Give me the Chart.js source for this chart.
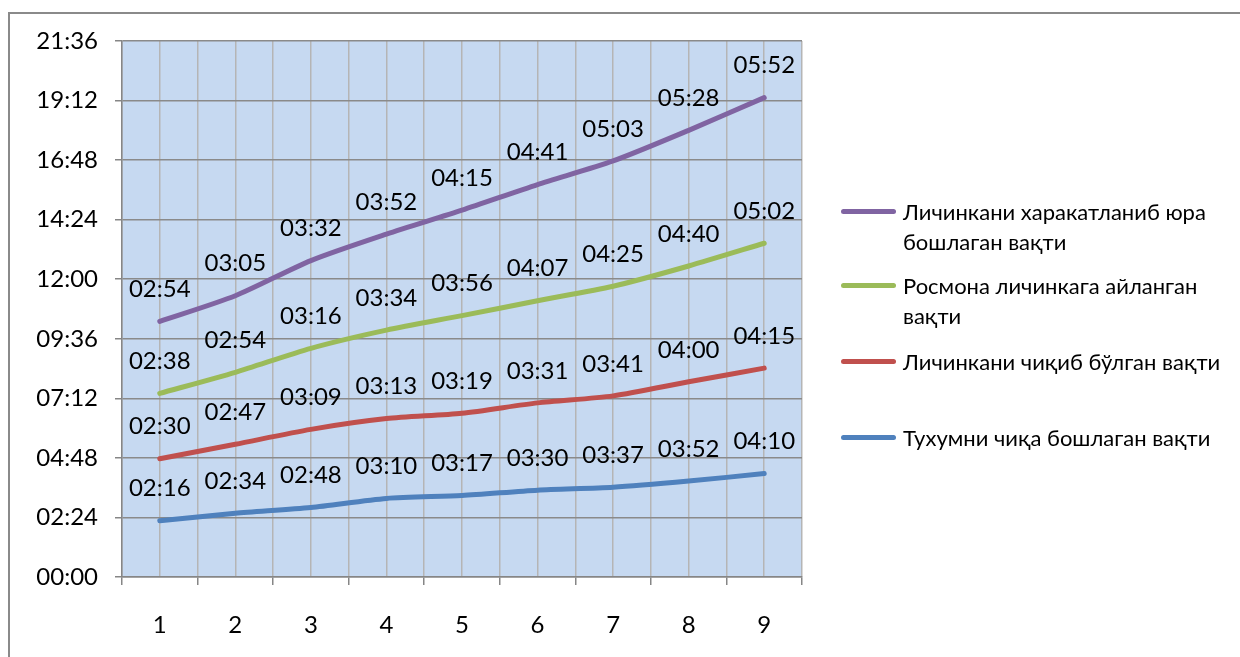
<!DOCTYPE html>
<html>
<head>
<meta charset="utf-8">
<script src="https://cdn.jsdelivr.net/npm/chart.js@4/dist/chart.umd.min.js"></script>
<style>
  html, body { margin: 0; padding: 0; background: #fff; }
  #wrap { position: relative; width: 1240px; height: 657px; overflow: hidden; }
  #frame { position: absolute; left: 8px; top: 12px; width: 1300px; height: 700px; border: 2px solid #8a8a8a; box-sizing: border-box; }
  #cv { position: absolute; left: 0; top: 0; }
  .lg { position: absolute; left: 841px; font-family: Lato, 'Open Sans', 'Noto Sans', sans-serif; font-size: 22px; color: #000; line-height: 30px; white-space: nowrap; }
  .lg .sw { position: absolute; left: 0; top: 12.5px; width: 55px; height: 5px; border-radius: 2.5px; }
  .lg .tx { position: absolute; left: 62px; top: 1px; }
</style>
</head>
<body>
<div id="wrap">
  <div id="frame"></div>
  <canvas id="cv" width="1240" height="657"></canvas>
</div>
<script>
// ---- data ----
const categories = [1, 2, 3, 4, 5, 6, 7, 8, 9];
// durations as "HH:MM" (stacked series, bottom to top)
const eggHatchStart   = ['02:16','02:34','02:48','03:10','03:17','03:30','03:37','03:52','04:10'];
const larvaFullHatch  = ['02:30','02:47','03:09','03:13','03:19','03:31','03:41','04:00','04:15'];
const turnedToLarva   = ['02:38','02:54','03:16','03:34','03:56','04:07','04:25','04:40','05:02'];
const larvaMoveStart  = ['02:54','03:05','03:32','03:52','04:15','04:41','05:03','05:28','05:52'];
const seriesNames = [
  ['Тухумни чиқа бошлаган вақти'],
  ['Личинкани чиқиб бўлган вақти'],
  ['Росмона личинкага айланган', 'вақти'],
  ['Личинкани харакатланиб юра', 'бошлаган вақти']
];
const seriesColors = ['#4f81bd', '#c0504d', '#9bbb59', '#8064a2'];
const yMaxLabel = '21:36';
const yStepLabel = '02:24';

// ---- helpers ----
const toMin = s => { const [h, m] = s.split(':').map(Number); return h * 60 + m; };
const fmt = v => { const h = Math.floor(v / 60), m = Math.round(v % 60); return String(h).padStart(2, '0') + ':' + String(m).padStart(2, '0'); };
const seriesValues = [eggHatchStart, larvaFullHatch, turnedToLarva, larvaMoveStart].map(a => a.map(toMin));

const datasets = seriesValues.map((vals, i) => ({
  label: seriesNames[i].join(' '),
  data: categories.map((c, j) => ({ x: c, y: vals[j] })),
  borderColor: seriesColors[i],
  backgroundColor: seriesColors[i],
  borderWidth: 5,
  borderCapStyle: 'round',
  borderJoinStyle: 'round',
  pointRadius: 0,
  pointHoverRadius: 0,
  tension: 0.25,
  fill: false
}));

const plotBg = {
  id: 'plotBg',
  beforeDraw(chart) {
    const { ctx, chartArea: a } = chart;
    ctx.save();
    ctx.fillStyle = '#c6d9f1';
    ctx.fillRect(a.left, a.top, a.right - a.left, a.bottom - a.top);
    ctx.restore();
  }
};

const valueLabels = {
  id: 'valueLabels',
  afterDatasetsDraw(chart) {
    const { ctx } = chart;
    ctx.save();
    ctx.font = '24px Lato, "Open Sans", sans-serif';
    ctx.fillStyle = '#000';
    ctx.textAlign = 'center';
    ctx.textBaseline = 'middle';
    chart.data.datasets.forEach((ds, i) => {
      const meta = chart.getDatasetMeta(i);
      meta.data.forEach((pt, j) => {
        ctx.fillText(fmt(seriesValues[i][j]), pt.x, pt.y - 32);
      });
    });
    ctx.restore();
  }
};

new Chart(document.getElementById('cv'), {
  type: 'line',
  data: { datasets },
  plugins: [plotBg, valueLabels],
  options: {
    responsive: false,
    animation: false,
    layout: { padding: { left: 0, top: 41, right: 438, bottom: 0 } },
    plugins: { legend: { display: false }, tooltip: { enabled: false } },
    scales: {
      x: {
        type: 'linear',
        min: categories[0] - 0.5,
        max: categories[categories.length - 1] + 0.5,
        afterFit: s => { s.height = 80; },
        ticks: {
          stepSize: 0.5,
          autoSkip: false,
          maxRotation: 0,
          padding: 26,
          color: '#000',
          font: { family: 'Lato, "Open Sans", sans-serif', size: 24 },
          callback: v => Number.isInteger(v) ? String(v) : ''
        },
        grid: {
          color: '#b5b5b5',
          lineWidth: 1.5,
          tickLength: 8,
          tickColor: ctx => (ctx.tick && Number.isInteger(ctx.tick.value)) ? 'rgba(0,0,0,0)' : '#868686'
        },
        border: { color: '#868686', width: 1.5 }
      },
      y: {
        stacked: true,
        min: 0,
        max: toMin(yMaxLabel),
        afterFit: s => { s.width = 122; },
        ticks: {
          stepSize: toMin(yStepLabel),
          padding: 17,
          color: '#000',
          font: { family: 'Lato, "Open Sans", sans-serif', size: 24 },
          callback: v => fmt(v)
        },
        grid: { color: '#8a8a8a', lineWidth: 1.5, tickLength: 7, tickColor: '#868686' },
        border: { color: '#868686', width: 1.5 }
      }
    }
  }
});

// ---- legend (HTML, top entry = top series) ----
const legendTops = [437, 361, 285, 211];
const wrap = document.getElementById('wrap');
seriesNames.forEach((lines, i) => {
  const d = document.createElement('div');
  d.className = 'lg';
  d.style.top = (legendTops[i] - 15) + 'px';
  const sw = document.createElement('span');
  sw.className = 'sw';
  sw.style.background = seriesColors[i];
  const tx = document.createElement('div');
  tx.className = 'tx';
  tx.innerHTML = lines.join('<br>');
  d.appendChild(sw);
  d.appendChild(tx);
  wrap.appendChild(d);
});
</script>
</body>
</html>
